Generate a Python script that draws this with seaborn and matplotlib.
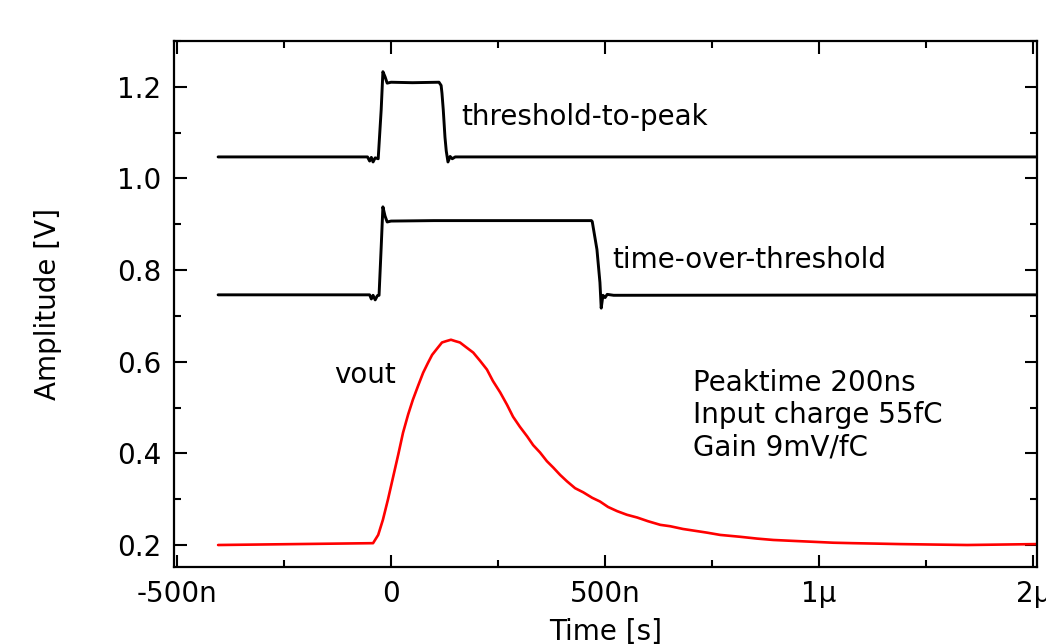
import numpy as np
import pandas as pd
import matplotlib
matplotlib.use("Agg")
import matplotlib.pyplot as plt
from matplotlib.ticker import FixedLocator, MultipleLocator
import seaborn as sns

# ---------- DATA (time in ns, amplitude in V) ----------
ttp_t = [-404, -55, -50, -46, -42, -37, -30, -23, -19, -14, -9, 0, 50, 112, 117, 119, 122, 126, 129, 133,
         138, 143, 150, 1509]
ttp_v = [1.047, 1.047, 1.038, 1.046, 1.036, 1.045, 1.043, 1.150, 1.233, 1.222, 1.208, 1.210, 1.209, 1.210,
         1.203, 1.186, 1.150, 1.090, 1.060, 1.036, 1.048, 1.043, 1.047, 1.047]

tot_t = [-404, -50, -46, -42, -37, -32, -28, -23, -19, -14, -9, 0, 100, 300, 468, 470, 481, 488, 491, 495,
         500, 505, 520, 1509]
tot_v = [0.746, 0.746, 0.737, 0.745, 0.735, 0.744, 0.745, 0.850, 0.938, 0.918, 0.905, 0.907, 0.908, 0.908,
         0.908, 0.906, 0.845, 0.773, 0.717, 0.745, 0.740, 0.747, 0.745, 0.746]

vout_t = [-404, -42, -30, -19, -7, 5, 17, 28, 40, 51, 63, 75, 86, 96, 107, 119, 129, 140, 150, 161, 175,
          192, 208, 224, 238, 255, 271, 285, 301, 318, 332, 348, 364, 379, 395, 411, 430, 449, 470, 488, 507,
          528, 551, 575, 600, 629, 652, 682, 710, 738, 769, 815, 855, 893, 939, 986, 1033, 1079, 1136, 1189,
          1266, 1346, 1509]
vout_v = [0.200, 0.204, 0.222, 0.255, 0.300, 0.349, 0.398, 0.445, 0.485, 0.517, 0.547, 0.576, 0.597, 0.615,
          0.628, 0.642, 0.645, 0.648, 0.645, 0.642, 0.632, 0.620, 0.602, 0.583, 0.558, 0.533, 0.506, 0.480,
          0.458, 0.437, 0.418, 0.402, 0.383, 0.369, 0.353, 0.339, 0.324, 0.315, 0.303, 0.295, 0.283, 0.274,
          0.266, 0.260, 0.252, 0.244, 0.241, 0.235, 0.231, 0.227, 0.222, 0.218, 0.214, 0.211, 0.209, 0.207,
          0.205, 0.204, 0.203, 0.202, 0.201, 0.200, 0.202]

x_ticks = [-500, 0, 500, 1000, 1500]
x_ticklabels = ["-500n", "0", "500n", "1\u03bc", "2\u03bc"]
y_ticks = [0.2, 0.4, 0.6, 0.8, 1.0, 1.2]

# ---------- STYLE ----------
sns.set_theme(style="ticks")
plt.rcParams["font.family"] = ["DejaVu Sans"]
plt.rcParams["text.color"] = "black"
plt.rcParams["axes.labelcolor"] = "black"
FS = 20

fig = plt.figure(figsize=(10.46, 6.44), dpi=100)
ax = fig.add_axes([174 / 1046, 1 - 567 / 644, (1037 - 174) / 1046, (567 - 41) / 644])

traces = [
    (ttp_t, ttp_v, "black", 2.1),
    (tot_t, tot_v, "black", 2.1),
    (vout_t, vout_v, "#ff0000", 1.9),
]
for t, v, col, lw in traces:
    df = pd.DataFrame({"t": np.array(t) * 1e-9, "v": v})
    sns.lineplot(data=df, x="t", y="v", ax=ax, color=col, lw=lw,
                 estimator=None, sort=False, legend=False)

ax.set_xlim(-507e-9, 1509e-9)
ax.set_ylim(0.152, 1.300)

ax.xaxis.set_major_locator(FixedLocator([x * 1e-9 for x in x_ticks]))
ax.set_xticklabels(x_ticklabels)
ax.xaxis.set_minor_locator(FixedLocator([x * 1e-9 + 250e-9 for x in x_ticks[:-1]]))
ax.yaxis.set_major_locator(FixedLocator(y_ticks))
ax.set_yticklabels([f"{y:.1f}" for y in y_ticks])
ax.yaxis.set_minor_locator(MultipleLocator(0.1))

ax.tick_params(which="both", direction="in", top=True, right=True, width=1.5,
               colors="black", labelcolor="black")
ax.tick_params(which="major", length=9, labelsize=FS, pad=9)
ax.tick_params(which="minor", length=5)
for s in ax.spines.values():
    s.set_linewidth(1.6)
    s.set_color("black")

ax.set_xlabel("Time [s]", fontsize=FS, color="black")
ax.set_ylabel("Amplitude [V]", fontsize=FS, color="black")
ax.xaxis.set_label_coords(0.5, -0.124)
ax.yaxis.set_label_coords(-0.146, 0.5)
ax.xaxis.label.set_va("center")
ax.yaxis.label.set_va("center")

# ---------- ANNOTATIONS ----------
ax.text(164e-9, 1.134, "threshold-to-peak", fontsize=FS, va="center", ha="left", color="black")
ax.text(516e-9, 0.822, "time-over-threshold", fontsize=FS, va="center", ha="left", color="black")
ax.text(-133e-9, 0.571, "vout", fontsize=FS, va="center", ha="left", color="black")
ax.text(706e-9, 0.585, "Peaktime 200ns\nInput charge 55fC\nGain 9mV/fC",
        fontsize=FS, va="top", ha="left", linespacing=1.2, color="black")

fig.savefig("out.png", dpi=100)
